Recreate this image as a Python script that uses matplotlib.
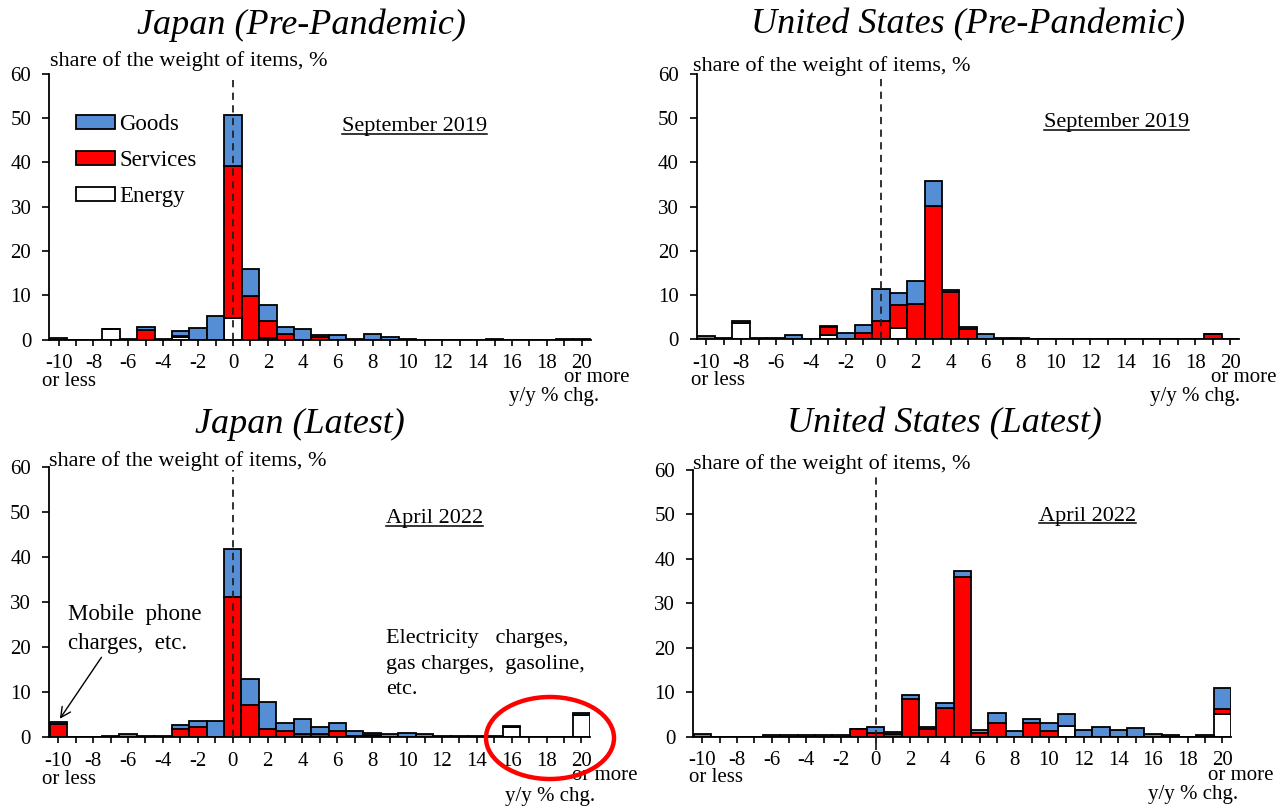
import matplotlib
matplotlib.use("Agg")
import matplotlib.pyplot as plt
from matplotlib.patches import Patch, Ellipse
from matplotlib.lines import Line2D

plt.rcParams['font.family'] = ['Liberation Serif', 'DejaVu Serif']

W, H = 1284, 807

# ---------------- data ----------------
bins = list(range(-10, 21))            # -10 = "-10 or less", 20 = "20 or more"
tick_values = list(range(-10, 21, 2))
tick_labels = [str(v) for v in tick_values]
series_names = ["Goods", "Services", "Energy"]

#                 -10  -9   -8   -7   -6   -5   -4   -3   -2   -1    0     1    2    3    4    5    6    7    8    9   10  11 12 13 14  15  16 17 18  19   20
jp_pre_goods   = [0.3, 0,   0,   0,   0.2, 0.8, 0.2, 1.0, 2.6, 5.3, 11.5, 6.2, 3.5, 1.7, 2.3, 0.6, 1.1, 0.2, 1.2, 0.5, 0.2, 0, 0, 0, 0, 0.2, 0, 0, 0, 0.2, 0.2]
jp_pre_serv    = [0,   0,   0,   0,   0,   2.1, 0,   0.4, 0,   0,   34.4, 9.8, 3.8, 1.2, 0,   0.5, 0,   0,   0,   0,   0,   0, 0, 0, 0, 0,   0, 0, 0, 0,   0]
jp_pre_energy  = [0,   0,   0,   2.3, 0,   0,   0,   0.5, 0,   0,   4.8,  0,   0.4, 0,   0,   0,   0,   0,   0,   0,   0,   0, 0, 0, 0, 0,   0, 0, 0, 0,   0]

us_pre_goods   = [0.75, 0.2, 0.5, 0.4, 0.2, 1.0, 0, 0.4, 1.35, 1.85, 7.3, 2.7, 5.2, 5.6,  0.45, 0.55, 1.1, 0.3, 0.3, 0, 0, 0, 0, 0, 0, 0, 0, 0, 0, 0,   0]
us_pre_serv    = [0,    0,   0,   0,   0,   0,   0, 1.7, 0,    1.35, 4.1, 5.1, 8.0, 30.1, 10.6, 2.3,  0,   0,   0,   0, 0, 0, 0, 0, 0, 0, 0, 0, 0, 1.1, 0]
us_pre_energy  = [0,    0,   3.6, 0,   0,   0,   0, 1.0, 0,    0,    0,   2.6, 0,   0,    0,    0,    0,   0,   0,   0, 0, 0, 0, 0, 0, 0, 0, 0, 0, 0,   0]

jp_lat_goods   = [0.5, 0, 0, 0.25, 0.75, 0.3, 0.3, 0.8,  1.45, 3.7, 10.8, 5.8, 5.95, 1.8, 3.4, 1.65, 1.8, 1.2, 0.5, 0.7, 1.05, 0.7, 0.3, 0.3, 0.3, 0.3, 0.3, 0, 0, 0, 0.5]
jp_lat_serv    = [2.9, 0, 0, 0,    0,    0,   0,   1.95, 2.25, 0,   31.1, 7.2, 1.95, 1.3, 0.7, 0.7,  1.3, 0,   0,   0,   0,    0,   0,   0,   0,   0,   0,   0, 0, 0, 0]
jp_lat_energy  = [0,   0, 0, 0,    0,    0,   0,   0,    0,    0,   0,    0,   0,    0,   0,   0,    0,   0.3, 0.5, 0,   0,    0,   0,   0,   0,   0,   2.2, 0, 0, 0, 4.9]

us_lat_goods   = [0.7, 0, 0, 0, 0.3, 0.3, 0.3, 0.3, 0.3, 0,   1.35, 0.55, 0.8, 0.45, 1.0, 1.4,  0.7, 2.3, 1.2, 1.0, 1.8, 2.6, 1.6, 2.25, 1.6, 1.95, 0.6, 0.3, 0, 0.3, 4.7]
us_lat_serv    = [0,   0, 0, 0, 0,   0,   0,   0,   0,   1.7, 0.75, 0.5,  8.5, 1.65, 6.5, 35.9, 0.9, 3.0, 0,   3.0, 1.2, 0,   0,   0,    0,   0,    0,   0,   0, 0,   1.3]
us_lat_energy  = [0,   0, 0, 0, 0,   0,   0,   0,   0,   0,   0,    0,    0,   0,    0,   0,    0,   0,   0,   0,   0,   2.5, 0,   0,    0,   0,    0,   0,   0, 0,   5.0]

# ---------------- styling ----------------
C_GOODS = '#558ED5'
C_SERV = '#FF0000'
C_ENERGY = '#FFFFFF'
EDGE_LW = 1.3
FS_TICK = 15
FS_TEXT = 15
FS_SHARE = 16
FS_DATE = 16
FS_TITLE = 26

fig = plt.figure(figsize=(W / 100, H / 100), dpi=100)


def px_axes(left, top, right, bottom):
    return fig.add_axes([left / W, 1 - bottom / H, (right - left) / W, (bottom - top) / H])


def ftext(x, y, s, **kw):
    return fig.text(x / W, 1 - y / H, s, **kw)


panels = [
    dict(title='Japan (Pre-Pandemic)', box=(49, 73.8, 590.5, 339.5), data=(jp_pre_goods, jp_pre_serv, jp_pre_energy),
         tpos=(301, 25), share=(50, 61), date='September 2019', dpos=(342, 127),
         less=(69, 381), more=(597, 377), yy=(554, 396), dash_lo=0),
    dict(title='United States (Pre-Pandemic)', box=(696.5, 73.8, 1239, 339.3), data=(us_pre_goods, us_pre_serv, us_pre_energy),
         tpos=(968, 25), share=(693, 66), date='September 2019', dpos=(1044, 123),
         less=(718, 380), more=(1244, 377), yy=(1195, 396), dash_lo=0),
    dict(title='Japan (Latest)', box=(48.7, 467.3, 590.2, 737.3), data=(jp_lat_goods, jp_lat_serv, jp_lat_energy),
         tpos=(300, 424), share=(49, 461), date='April 2022', dpos=(386, 519),
         less=(69, 779), more=(605, 775), yy=(550, 796), dash_lo=0),
    dict(title='United States (Latest)', box=(692.8, 469.7, 1231, 736.7), data=(us_lat_goods, us_lat_serv, us_lat_energy),
         tpos=(944, 424), share=(693, 464), date='April 2022', dpos=(1039, 516),
         less=(716, 778), more=(1241, 776), yy=(1193, 794), dash_lo=-3),
]

date_texts = []
axes = []
for p in panels:
    ax = px_axes(*p['box'])
    axes.append(ax)
    goods, serv, energy = p['data']
    bottom_g = [e + s for e, s in zip(energy, serv)]
    ax.bar(bins, energy, width=1, color=C_ENERGY, edgecolor='black', linewidth=EDGE_LW, zorder=2)
    ax.bar(bins, serv, width=1, bottom=energy, color=C_SERV, edgecolor='black', linewidth=EDGE_LW, zorder=2)
    ax.bar(bins, goods, width=1, bottom=bottom_g, color=C_GOODS, edgecolor='black', linewidth=EDGE_LW, zorder=2)
    ax.plot([0, 0], [p['dash_lo'], 59.5], color='#222222', lw=1.3, ls=(0, (4, 3)), zorder=4, clip_on=False)

    ax.set_xlim(-10.55, 20.5)
    ax.set_ylim(0, 60)
    ax.set_yticks(range(0, 61, 10))
    ax.set_xticks(tick_values)
    ax.set_xticklabels(tick_labels)
    ax.set_xticks(bins, minor=True)
    ax.tick_params(axis='x', which='both', direction='out', length=4.5, width=1.2, labelsize=FS_TICK, pad=6)
    ax.tick_params(axis='y', direction='out', length=4.7, width=1.2, labelsize=FS_TICK, pad=8)
    for s in ('top', 'right'):
        ax.spines[s].set_visible(False)
    for s in ('left', 'bottom'):
        ax.spines[s].set_linewidth(1.3)
    ax.patch.set_alpha(0)

    ftext(*p['tpos'], p['title'], ha='center', va='center', fontsize=FS_TITLE, style='italic')
    ftext(*p['share'], 'share of the weight of items, %', ha='left', va='center', fontsize=FS_SHARE)
    date_texts.append(ftext(*p['dpos'], p['date'], ha='left', va='center', fontsize=FS_DATE))
    ftext(*p['less'], 'or less', ha='center', va='center', fontsize=FS_TEXT)
    ftext(*p['more'], 'or more', ha='center', va='center', fontsize=FS_TEXT)
    ftext(*p['yy'], 'y/y % chg.', ha='center', va='center', fontsize=FS_TEXT)

# legend in the first panel
handles = [Patch(facecolor=c, edgecolor='black', linewidth=EDGE_LW, label=n)
           for c, n in zip([C_GOODS, C_SERV, C_ENERGY], series_names)]
leg = axes[0].legend(handles=handles, loc='upper left', bbox_to_anchor=(76 / W, 1 - 114 / H),
                     bbox_transform=fig.transFigure, frameon=False, fontsize=16.5,
                     handlelength=1.68, handleheight=0.52, handletextpad=0.22,
                     labelspacing=0.66, borderpad=0, borderaxespad=0)

# annotations in Japan (Latest)
ax3 = axes[2]
ftext(68, 629, 'Mobile  phone\ncharges,  etc.', ha='left', va='center', fontsize=16.5, linespacing=1.55)
ax3.annotate('', xy=(-10, 3.6), xytext=(103 / W, 1 - 655 / H), textcoords='figure fraction',
             arrowprops=dict(arrowstyle='->', color='black', lw=1.0, mutation_scale=18), annotation_clip=False)
ftext(386, 664, 'Electricity   charges,\ngas charges,  gasoline,\netc.', ha='left', va='center',
      fontsize=16, linespacing=1.45)
fig.add_artist(Ellipse((550 / W, 1 - 738 / H), 128 / W, 82 / H, transform=fig.transFigure,
                       facecolor='none', edgecolor='#FF0000', linewidth=3.2, zorder=10))

# underline the date labels
fig.canvas.draw()
renderer = fig.canvas.get_renderer()
for t in date_texts:
    bb = t.get_window_extent(renderer)
    y = bb.y0 + 2.5
    fig.add_artist(Line2D([bb.x0 / W, bb.x1 / W], [y / H, y / H], transform=fig.transFigure,
                          color='black', lw=1.1))

fig.savefig('out.png', dpi=100)
